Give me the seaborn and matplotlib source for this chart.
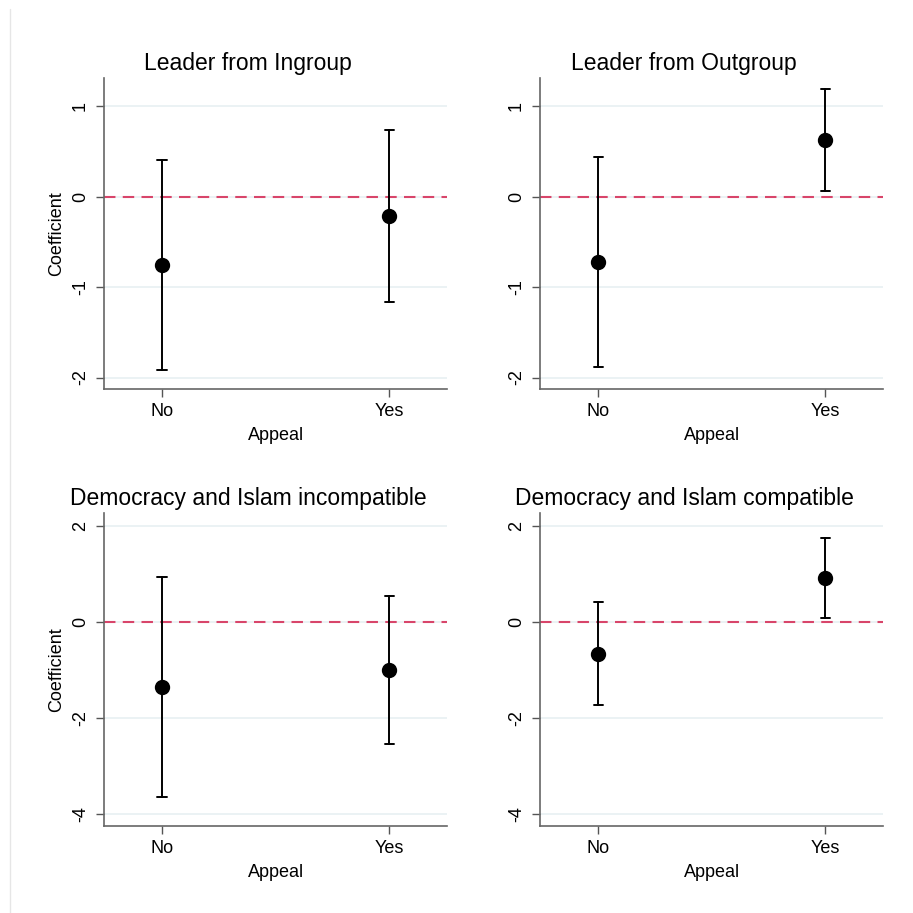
import pandas as pd
import numpy as np
import matplotlib.pyplot as plt
import seaborn as sns
from matplotlib.lines import Line2D

# coefficient estimates with 95% CI
appeal = ["No", "Yes"]

titles = ["Leader from Ingroup", "Leader from Outgroup",
          "Democracy and Islam incompatible", "Democracy and Islam compatible"]

coef_ingroup = [-0.756, -0.214]
lo_ingroup = [-1.92, -1.163]
hi_ingroup = [0.406, 0.738]

coef_outgroup = [-0.723, 0.624]
lo_outgroup = [-1.886, 0.063]
hi_outgroup = [0.443, 1.19]

coef_incomp = [-1.367, -1.006]
lo_incomp = [-3.66, -2.54]
hi_incomp = [0.931, 0.535]

coef_comp = [-0.673, 0.91]
lo_comp = [-1.74, 0.083]
hi_comp = [0.41, 1.75]

yticks_top = [-2, -1, 0, 1]
yticks_bottom = [-4, -2, 0, 2]

sns.set_style("white")
plt.rcParams['font.family'] = ['Liberation Sans', 'DejaVu Sans']
plt.rcParams['text.color'] = 'black'
plt.rcParams['axes.labelcolor'] = 'black'
plt.rcParams['xtick.color'] = 'black'
plt.rcParams['ytick.color'] = 'black'

fig = plt.figure(figsize=(9.13, 9.13), dpi=100)

# axes boxes [left, bottom, width, height]
boxes = [
    [0.114, 0.5736, 0.3756, 0.3406],
    [0.5918, 0.5736, 0.3753, 0.3406],
    [0.114, 0.0956, 0.3756, 0.3422],
    [0.5918, 0.0956, 0.3753, 0.3422],
]
panels = [
    (coef_ingroup, lo_ingroup, hi_ingroup, yticks_top, (-2.13, 1.31)),
    (coef_outgroup, lo_outgroup, hi_outgroup, yticks_top, (-2.13, 1.31)),
    (coef_incomp, lo_incomp, hi_incomp, yticks_bottom, (-4.25, 2.26)),
    (coef_comp, lo_comp, hi_comp, yticks_bottom, (-4.25, 2.26)),
]

for i, (box, (coef, lo, hi, yt, ylim)) in enumerate(zip(boxes, panels)):
    ax = fig.add_axes(box)
    # long table: lower bound, estimate, upper bound per category
    df = pd.DataFrame({
        "Appeal": appeal * 3,
        "val": list(lo) + list(coef) + list(hi),
    })
    for y in yt:
        ax.axhline(y, color="#e8f0f2", lw=1.2, zorder=0)
    ax.axhline(0, color="#d8456a", lw=1.5, ls=(0, (5.5, 3.5)), zorder=1)
    sns.pointplot(data=df, x="Appeal", y="val", order=appeal,
                  estimator="median", errorbar=("pi", 100),
                  color="black", linestyle="none", markers="o",
                  markersize=9, capsize=0.04, err_kws={"linewidth": 1.4},
                  ax=ax, zorder=3)
    ax.set_xlim(-0.255, 1.255)
    ax.set_ylim(*ylim)
    ax.set_yticks(yt)
    ax.set_yticklabels([str(v) for v in yt], rotation=90, va="center")
    ax.tick_params(axis="both", length=6, width=1,
                   labelsize=13, direction="out", left=True, bottom=True)
    ax.tick_params(axis="both", color="#555555")
    ax.tick_params(axis="y", pad=5)
    ax.tick_params(axis="x", pad=4)
    for s in ["top", "right"]:
        ax.spines[s].set_visible(False)
    for s in ["left", "bottom"]:
        ax.spines[s].set_color("#666666")
        ax.spines[s].set_linewidth(1.2)
    ax.set_xlabel("Appeal", fontsize=13, labelpad=5)
    ax.set_ylabel("Coefficient" if i % 2 == 0 else "", fontsize=13, labelpad=5)
    ax.set_title(titles[i], fontsize=16.5, pad=6, x=0.42)
    ax.grid(False)

# faint frame line on the left edge
fig.add_artist(Line2D([0.0105, 0.0105], [0, 0.99], color="#e6e6e6", lw=1))

fig.savefig("out.png", dpi=100, facecolor="white")
